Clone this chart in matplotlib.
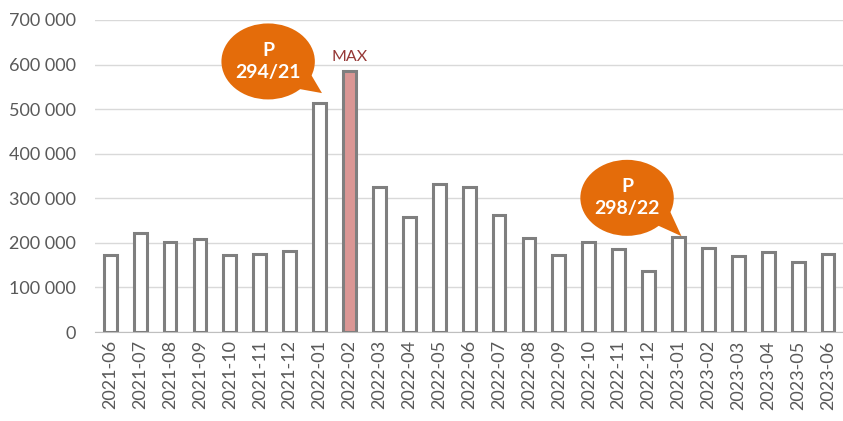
import matplotlib.pyplot as plt
from matplotlib.patches import Ellipse, Polygon
from matplotlib.ticker import FuncFormatter, MultipleLocator
import numpy as np

# monthly values
months = ["2021-06", "2021-07", "2021-08", "2021-09", "2021-10", "2021-11", "2021-12",
          "2022-01", "2022-02", "2022-03", "2022-04", "2022-05", "2022-06", "2022-07",
          "2022-08", "2022-09", "2022-10", "2022-11", "2022-12", "2023-01", "2023-02",
          "2023-03", "2023-04", "2023-05", "2023-06"]
values = [173000, 222000, 201000, 208000, 173000, 175000, 182000,
          514000, 586000, 326000, 259000, 332000, 326000, 263000,
          212000, 172000, 201000, 187000, 137000, 214000, 189000,
          171000, 180000, 158000, 174000]

# speech-bubble callouts: label, bubble centre (x, y), tail tip (x, y)
callout_labels = ["P\n294/21", "P\n298/22"]
callout_centres = [(5.28, 607000), (17.28, 301000)]
callout_tips = [(7.08, 536000), (19.1, 215000)]

ORANGE = "#e46c0a"
GREY = "#7f7f7f"
TEXT = "#595959"

plt.rcParams['font.family'] = ['Lato', 'DejaVu Sans']

fig = plt.figure(figsize=(8.43, 4.21), dpi=100)
ax = fig.add_axes([0.113, 0.2114, 0.887, 0.7411])

x = np.arange(len(months))
imax = int(np.argmax(values))
colors = ["white"] * len(values)
colors[imax] = "#da9694"
ax.bar(x, values, width=0.43, color=colors, edgecolor=GREY, linewidth=2.2, zorder=3)

ax.set_xlim(-0.5, len(months) - 0.5)
ax.set_ylim(0, 700000)
ax.yaxis.set_major_locator(MultipleLocator(100000))
ax.yaxis.set_major_formatter(FuncFormatter(lambda v, p: f"{int(v):,}".replace(",", " ")))
ax.set_xticks(x)
ax.set_xticklabels(months, rotation=90)

ax.grid(axis="y", color="#d9d9d9", linewidth=1, zorder=0)
for s in ["top", "right", "left"]:
    ax.spines[s].set_visible(False)
ax.spines["bottom"].set_color("#bfbfbf")
ax.tick_params(axis="both", length=0, labelsize=13, labelcolor=TEXT)
ax.tick_params(axis="y", pad=14)
ax.tick_params(axis="x", pad=6)

# MAX label above the highest bar
ax.annotate("MAX", (imax, values[imax]), xytext=(0, 5), textcoords="offset points",
            ha="center", va="bottom", color="#953735", fontsize=11.5)

# callouts
bw, bh = 94 / 30.1, 76 / 0.4457 * 1000
for label, (cx, cy), (tx, ty) in zip(callout_labels, callout_centres, callout_tips):
    ell = Ellipse((cx, cy), bw, bh, facecolor=ORANGE, edgecolor="none", zorder=5, clip_on=False)
    ax.add_patch(ell)
    pts = []
    for ang in (-20, -48):
        a = np.radians(ang)
        pts.append((cx + bw / 2 * 0.97 * np.cos(a), cy + bh / 2 * 0.97 * np.sin(a)))
    tail = Polygon([pts[0], (tx, ty), pts[1]], closed=True, facecolor=ORANGE,
                   edgecolor="none", zorder=5, clip_on=False)
    ax.add_patch(tail)
    ax.text(cx, cy, label, ha="center", va="center", color="white", fontsize=14,
            fontweight="bold", linespacing=1.35, zorder=6)

fig.savefig("out.png", dpi=100)
